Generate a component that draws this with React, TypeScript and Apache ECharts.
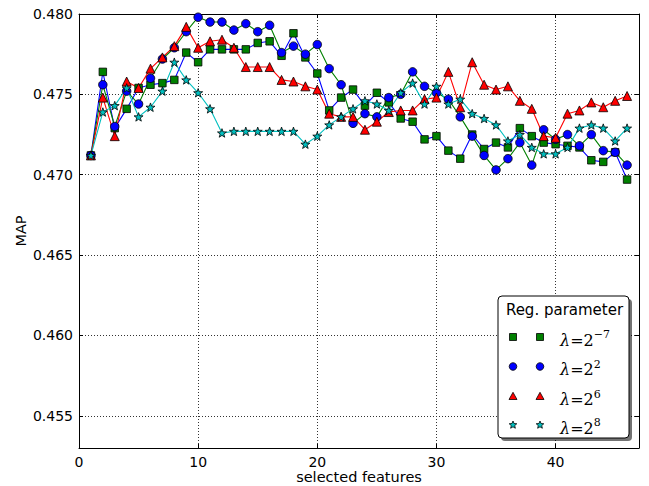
import React, { useEffect, useRef } from "react";
import * as echarts from "echarts";

// ---- data ----
const features = [
  1, 2, 3, 4, 5, 6, 7, 8, 9, 10, 11, 12, 13, 14, 15, 16, 17, 18, 19, 20, 21, 22, 23,
  24, 25, 26, 27, 28, 29, 30, 31, 32, 33, 34, 35, 36, 37, 38, 39, 40, 41, 42, 43, 44, 45, 46,
];
// λ = 2^-7 (green squares)
const mapLambdaM7 = [
  0.4712, 0.4764, 0.4729, 0.4741, 0.4754, 0.4756, 0.4757, 0.4759, 0.4776, 0.477, 0.4778,
  0.4778, 0.4778, 0.4778, 0.4782, 0.4783, 0.4774, 0.4788, 0.4773, 0.4763, 0.474, 0.4748,
  0.4753, 0.4743, 0.4751, 0.4745, 0.4735, 0.4733, 0.4722, 0.4724, 0.4715, 0.471, 0.4725,
  0.4716, 0.472, 0.4717, 0.4729, 0.4724, 0.472, 0.4719, 0.4718, 0.4717, 0.4709, 0.4708,
  0.4714, 0.4697,
];
// λ = 2^2 (blue circles)
const mapLambda2 = [
  0.4712, 0.4756, 0.473, 0.4752, 0.4744, 0.476, 0.4772, 0.4779, 0.4789, 0.4798, 0.4795,
  0.4795, 0.479, 0.4794, 0.4789, 0.4793, 0.4776, 0.478, 0.4775, 0.4781, 0.4766, 0.4756,
  0.4732, 0.4738, 0.4736, 0.4748, 0.475, 0.4764, 0.4755, 0.4751, 0.4747, 0.4736, 0.4724,
  0.4712, 0.4703, 0.471, 0.472, 0.4706, 0.4728, 0.4722, 0.4725, 0.4718, 0.4725, 0.4715,
  0.4714, 0.4706,
];
// λ = 2^6 (red triangles)
const mapLambda6 = [
  0.4712, 0.4748, 0.4724, 0.4758, 0.4754, 0.4766, 0.4773, 0.478, 0.4792, 0.4779, 0.4783,
  0.4784, 0.4779, 0.4767, 0.4767, 0.4767, 0.4759, 0.4758, 0.4755, 0.4753, 0.4738, 0.4736,
  0.4736, 0.4728, 0.4733, 0.4739, 0.474, 0.474, 0.4747, 0.4748, 0.4764, 0.4742, 0.477,
  0.4756, 0.4753, 0.4755, 0.4746, 0.4741, 0.4724, 0.4723, 0.4738, 0.474, 0.4745, 0.4742,
  0.4746, 0.4749,
];
// λ = 2^8 (cyan stars)
const mapLambda8 = [
  0.4712, 0.4739, 0.4743, 0.4754, 0.4736, 0.4742, 0.4752, 0.477, 0.4759, 0.4751, 0.4741,
  0.4726, 0.4727, 0.4727, 0.4727, 0.4727, 0.4727, 0.4727, 0.4719, 0.4724, 0.4731, 0.4736,
  0.4741, 0.4746, 0.4744, 0.474, 0.4751, 0.4757, 0.4744, 0.4755, 0.4744, 0.4747, 0.4738,
  0.4735, 0.4731, 0.4721, 0.4725, 0.4717, 0.4713, 0.4713, 0.4717, 0.4729, 0.4731, 0.4729,
  0.4721, 0.4729,
];
const seriesNames = ["λ=2^-7", "λ=2^2", "λ=2^6", "λ=2^8"];
const seriesExponents = ["−7", "2", "6", "8"];
const xTicks = [0, 10, 20, 30, 40];
const yTicks = [0.455, 0.46, 0.465, 0.47, 0.475, 0.48];
const xTitle = "selected features";
const yTitle = "MAP";
const legendTitle = "Reg. parameter";

// ---- styling ----
const FONT = "DejaVu Sans";
const MATH_FONT = "DejaVu Serif";
const STAR_PATH =
  "path://M0,-10L2.35,-3.24L9.51,-3.09L3.8,1.24L5.88,8.09L0,4.2L-5.88,8.09L-3.8,1.24L-9.51,-3.09L-2.35,-3.24Z";

const styles = [
  { symbol: "rect", size: 7.5, fill: "#008000", line: "#0000ff" },
  { symbol: "circle", size: 8.5, fill: "#0000ff", line: "#008000" },
  { symbol: "triangle", size: 9, fill: "#ff0000", line: "#ff0000" },
  { symbol: STAR_PATH, size: 9, fill: "#00bfbf", line: "#00bfbf" },
];

function starPoints(cx: number, cy: number, R: number, r: number) {
  const pts: number[][] = [];
  for (let k = 0; k < 10; k++) {
    const ang = -Math.PI / 2 + (k * Math.PI) / 5;
    const rad = k % 2 === 0 ? R : r;
    pts.push([cx + rad * Math.cos(ang), cy + rad * Math.sin(ang)]);
  }
  return pts;
}

function legendMarker(kind: number, cx: number, cy: number) {
  const st = { fill: styles[kind].fill, stroke: "#000", lineWidth: 0.8 };
  if (kind === 0) return { type: "rect", shape: { x: cx - 3.5, y: cy - 3.5, width: 7, height: 7 }, style: st };
  if (kind === 1) return { type: "circle", shape: { cx, cy, r: 3.8 }, style: st };
  if (kind === 2)
    return { type: "polygon", shape: { points: [[cx, cy - 4.2], [cx + 4, cy + 3], [cx - 4, cy + 3]] }, style: st };
  return { type: "polygon", shape: { points: starPoints(cx, cy, 4, 1.8) }, style: st };
}

export default function App() {
  const ref = useRef<HTMLDivElement>(null);
  useEffect(() => {
    document.body.style.margin = "0";
    if (!ref.current) return;
    const chart = echarts.init(ref.current, undefined, { renderer: "svg" });
    const allSeries = [mapLambdaM7, mapLambda2, mapLambda6, mapLambda8];

    const series = allSeries.map((vals, i) => ({
      type: "line",
      name: seriesNames[i],
      data: features.map((f, j) => [f, vals[j]]),
      symbol: styles[i].symbol,
      symbolSize: styles[i].size,
      symbolKeepAspect: true,
      showSymbol: true,
      lineStyle: { color: styles[i].line, width: 1.1 },
      itemStyle: { color: styles[i].fill, borderColor: "#000", borderWidth: 0.8 },
      emphasis: { disabled: true },
      silent: true,
    }));

    const legX = 498;
    const legY = 296;
    const legW = 131;
    const legH = 142;
    const rowYs = [337, 366.5, 396.5, 425];
    const graphicEls: any[] = [
      { type: "rect", shape: { x: legX + 3, y: legY + 3, width: legW, height: legH, r: 4 }, style: { fill: "rgba(0,0,0,0.55)" }, z: 100 },
      { type: "rect", shape: { x: legX, y: legY, width: legW, height: legH, r: 4 }, style: { fill: "#fff", stroke: "#000", lineWidth: 1 }, z: 101 },
      {
        type: "text",
        x: legX + legW / 2 + 1,
        y: 310,
        style: { text: legendTitle, font: `15px '${FONT}'`, fill: "#000", align: "center", verticalAlign: "middle" },
        z: 102,
      },
    ];
    seriesNames.forEach((_, i) => {
      graphicEls.push({ ...legendMarker(i, 513, rowYs[i]), z: 102 });
      graphicEls.push({ ...legendMarker(i, 540, rowYs[i]), z: 102 });
      graphicEls.push({
        type: "text",
        x: 560,
        y: rowYs[i],
        z: 102,
        style: {
          text: `{l|λ}{e|=2}{s|${seriesExponents[i]}}`,
          verticalAlign: "middle",
          align: "left",
          fill: "#000",
          rich: {
            l: { fontFamily: MATH_FONT, fontStyle: "italic", fontSize: 16, lineHeight: 22, verticalAlign: "bottom" },
            e: { fontFamily: MATH_FONT, fontSize: 16, lineHeight: 22, verticalAlign: "bottom" },
            s: { fontFamily: MATH_FONT, fontSize: 11, lineHeight: 22, verticalAlign: "bottom", padding: [0, 0, 8, 0] },
          },
        },
      });
    });

    const gridDot = { type: [1, 2], color: "#333", width: 1 };
    chart.setOption({
      animation: false,
      grid: { left: 79, right: 10, top: 14, bottom: 38, containLabel: false, outerBoundsMode: "none" },
      xAxis: [
        {
          type: "value",
          min: 0,
          max: 47,
          position: "bottom",
          name: xTitle,
          nameLocation: "middle",
          nameGap: 22,
          nameMoveOverlap: false,
          nameTextStyle: { fontFamily: FONT, fontSize: 14.5, lineHeight: 14, color: "#000" },
          axisLine: { show: true, onZero: false, lineStyle: { color: "#000", width: 1 } },
          axisTick: { show: true, inside: true, length: 4, customValues: xTicks, lineStyle: { color: "#000" } },
          axisLabel: { customValues: xTicks, fontFamily: FONT, fontSize: 14, color: "#000", margin: 7 },
          splitLine: { show: true, lineStyle: gridDot },
        },
        {
          type: "value",
          min: 0,
          max: 47,
          position: "top",
          axisLine: { show: true, onZero: false, lineStyle: { color: "#000", width: 1 } },
          axisTick: { show: true, inside: true, length: 4, customValues: xTicks, lineStyle: { color: "#000" } },
          axisLabel: { show: false, customValues: xTicks },
          splitLine: { show: false },
        },
      ],
      yAxis: [
        {
          type: "value",
          min: 0.453,
          max: 0.48,
          position: "left",
          name: yTitle,
          nameLocation: "middle",
          nameGap: 51,
          nameMoveOverlap: false,
          nameTextStyle: { fontFamily: FONT, fontSize: 14.5, lineHeight: 14, color: "#000" },
          axisLine: { show: true, onZero: false, lineStyle: { color: "#000", width: 1 } },
          axisTick: { show: true, inside: true, length: 4, customValues: yTicks, lineStyle: { color: "#000" } },
          axisLabel: {
            customValues: yTicks,
            fontFamily: FONT,
            fontSize: 14,
            color: "#000",
            margin: 6,
            formatter: (v: number) => v.toFixed(3),
          },
          splitLine: { show: true, lineStyle: gridDot },
        },
        {
          type: "value",
          min: 0.453,
          max: 0.48,
          position: "right",
          axisLine: { show: true, onZero: false, lineStyle: { color: "#000", width: 1 } },
          axisTick: { show: true, inside: true, length: 4, customValues: yTicks, lineStyle: { color: "#000" } },
          axisLabel: { show: false, customValues: yTicks },
          splitLine: { show: false },
        },
      ],
      series,
      graphic: { elements: graphicEls },
    });
    return () => chart.dispose();
  }, []);
  return (
    <div
      ref={ref}
      style={{ position: "absolute", left: 0, top: 0, width: 649, height: 486, background: "#fff" }}
    />
  );
}
